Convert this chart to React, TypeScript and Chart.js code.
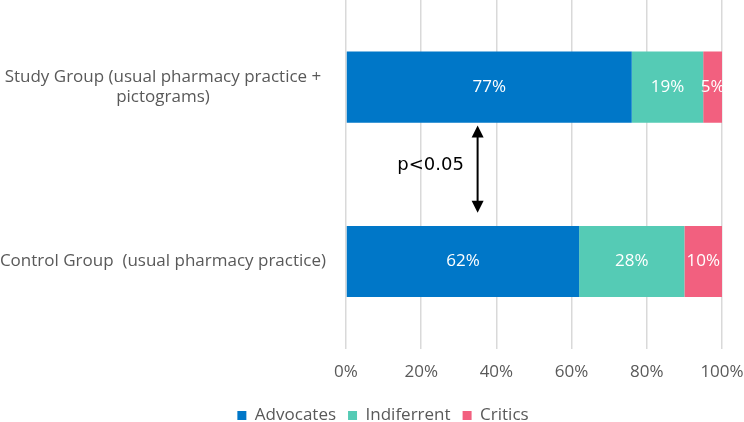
import React, { useEffect, useRef } from "react";
import { Chart, registerables } from "chart.js";

Chart.register(...registerables);

const categories: (string | string[])[] = [
  ["Study Group (usual pharmacy practice +", "pictograms)"],
  "Control Group  (usual pharmacy practice)",
];
const seriesNames = ["Advocates", "Indiferrent", "Critics"];
const advocates = [76, 62];
const indifferent = [19, 28];
const critics = [5, 10];
const advocatesLabels = ["77%", "62%"];
const indifferentLabels = ["19%", "28%"];
const criticsLabels = ["5%", "10%"];
const xTicks = [0, 20, 40, 60, 80, 100];
const significanceText = "p<0.05";

const colors = ["#0077C8", "#55CBB5", "#F2607F"];
const FONT = "'Open Sans', sans-serif";

const dataLabelPlugin = {
  id: "dataLabels",
  afterDatasetsDraw(chart: any) {
    const ctx = chart.ctx;
    const labelSets = [advocatesLabels, indifferentLabels, criticsLabels];
    ctx.save();
    ctx.font = `17px ${FONT}`;
    ctx.fillStyle = "#ffffff";
    ctx.textAlign = "center";
    ctx.textBaseline = "middle";
    chart.data.datasets.forEach((_: any, di: number) => {
      const meta = chart.getDatasetMeta(di);
      meta.data.forEach((el: any, i: number) => {
        const p = el.getCenterPoint();
        ctx.fillText(labelSets[di][i], p.x, p.y);
      });
    });
    ctx.restore();
  },
};

const annotationPlugin = {
  id: "significance",
  afterLayout(chart: any) {
    const l = chart.legend;
    if (l) {
      l.left += 11;
      l.right += 11;
    }
  },
  afterDraw(chart: any) {
    const ctx = chart.ctx;
    const xs = chart.scales.x;
    const ys = chart.scales.y;
    const ax = xs.getPixelForValue(35);
    const top = ys.getPixelForValue(0.22);
    const bottom = ys.getPixelForValue(0.72);
    ctx.save();
    ctx.strokeStyle = "#000";
    ctx.fillStyle = "#000";
    ctx.lineWidth = 2;
    ctx.beginPath();
    ctx.moveTo(ax, top + 8);
    ctx.lineTo(ax, bottom - 8);
    ctx.stroke();
    ctx.beginPath();
    ctx.moveTo(ax, top);
    ctx.lineTo(ax - 6, top + 12);
    ctx.lineTo(ax + 6, top + 12);
    ctx.closePath();
    ctx.fill();
    ctx.beginPath();
    ctx.moveTo(ax, bottom);
    ctx.lineTo(ax - 6, bottom - 12);
    ctx.lineTo(ax + 6, bottom - 12);
    ctx.closePath();
    ctx.fill();
    ctx.font = `18px 'DejaVu Sans', sans-serif`;
    ctx.textAlign = "center";
    ctx.textBaseline = "middle";
    ctx.fillText(significanceText, xs.getPixelForValue(22.5), ys.getPixelForValue(0.45));
    ctx.restore();
  },
};

export default function App() {
  const ref = useRef<HTMLCanvasElement | null>(null);
  useEffect(() => {
    if (!ref.current) return;
    const chart = new Chart(ref.current, {
      type: "bar",
      data: {
        labels: categories,
        datasets: [
          { label: seriesNames[0], data: advocates, backgroundColor: colors[0] },
          { label: seriesNames[1], data: indifferent, backgroundColor: colors[1] },
          { label: seriesNames[2], data: critics, backgroundColor: colors[2] },
        ],
      },
      options: {
        indexAxis: "y",
        responsive: false,
        animation: false,
        maintainAspectRatio: false,
        datasets: { bar: { categoryPercentage: 0.8, barPercentage: 0.51 } },
        layout: { padding: { left: 0, right: 0, top: 0, bottom: -12 } },
        scales: {
          x: {
            stacked: true,
            min: 0,
            max: 100,
            afterBuildTicks: (scale: any) => {
              scale.ticks = xTicks.map((v) => ({ value: v }));
            },
            afterFit: (scale: any) => {
              scale.paddingLeft = 0;
              scale.paddingRight = 22;
            },
            ticks: {
              color: "#595959",
              font: { family: FONT, size: 17 },
              padding: 13,
              callback: (v: any) => v + "%",
            },
            grid: { color: "#D9D9D9", lineWidth: 1.5, drawTicks: false },
            border: { display: false },
          },
          y: {
            stacked: true,
            afterFit: (scale: any) => {
              scale.paddingTop = 0;
              scale.paddingBottom = 0;
              scale.width = 346;
            },
            ticks: {
              color: "#595959",
              font: { family: FONT, size: 17 },
              crossAlign: "center",
              padding: 20,
            },
            grid: { display: false, drawTicks: false },
            border: { display: false },
          },
        },
        plugins: {
          legend: {
            position: "bottom",
            labels: {
              color: "#595959",
              font: { family: FONT, size: 17 },
              boxWidth: 9,
              boxHeight: 9,
              padding: 12,
            },
          },
          tooltip: { enabled: false },
        },
      },
      plugins: [dataLabelPlugin, annotationPlugin],
    });
    return () => chart.destroy();
  }, []);
  return (
    <div style={{ position: "fixed", left: 0, top: 0, width: 744, height: 422, background: "#fff" }}>
      <canvas ref={ref} width={744} height={422} />
    </div>
  );
}
